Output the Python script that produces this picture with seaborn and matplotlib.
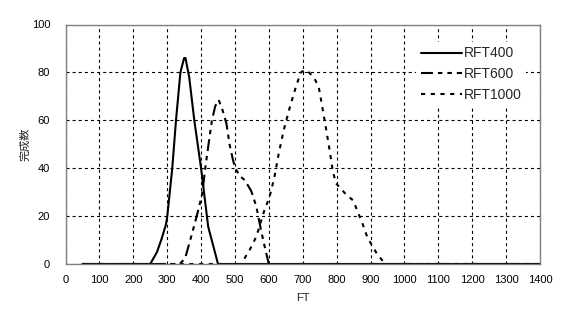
import matplotlib
matplotlib.use("Agg")
import matplotlib.pyplot as plt
import seaborn as sns
import pandas as pd

# ---- data ----
rft400_x = [50, 250, 270, 284, 296, 300, 315, 326, 339, 350, 354, 365, 380, 400, 421, 450, 1400]
rft400_y = [0, 0, 5, 10.7, 16.3, 19.5, 40, 60, 80, 86, 86, 78, 60, 40, 15.6, 0, 0]

rft600_x = [50, 337, 353, 372, 389, 403, 413, 423, 432, 442, 452, 464, 475, 484, 494,
            501, 514, 529, 548, 563, 577, 590, 600, 1400]
rft600_y = [0, 0, 2.4, 12, 21, 29, 40.7, 51, 60, 66, 68.5, 64, 58.5, 50, 43.5,
            40, 36.8, 35, 30.5, 24, 14, 5.8, 0, 0]

rft1000_x = [50, 520, 531, 543, 563, 575, 587, 602, 616, 629, 644, 661, 682, 695, 705,
             715, 734, 747, 754, 766, 778, 789, 798, 828, 849, 863, 877, 889, 901, 918, 943, 1400]
rft1000_y = [0, 0, 3, 5.8, 11.4, 17, 22.5, 28, 36, 46, 56, 65, 75, 80, 81,
             80.5, 77.6, 74, 68.5, 58.8, 48.6, 38.6, 33.7, 29, 26.5, 21.5, 16.6, 11.8, 8.6, 4.5, 0, 0]

series_names = ["RFT400", "RFT600", "RFT1000"]
x_ticks = list(range(0, 1401, 100))
y_ticks = list(range(0, 101, 20))
x_label = "FT"
y_label = "完成数"

df = pd.concat([
    pd.DataFrame({"FT": rft400_x, "val": rft400_y, "series": series_names[0]}),
    pd.DataFrame({"FT": rft600_x, "val": rft600_y, "series": series_names[1]}),
    pd.DataFrame({"FT": rft1000_x, "val": rft1000_y, "series": series_names[2]}),
], ignore_index=True)

sns.set_style("white")
plt.rcParams["font.family"] = ["Liberation Sans", "Noto Sans CJK JP", "DejaVu Sans"]
plt.rcParams["lines.scale_dashes"] = False

fig = plt.figure(figsize=(5.77, 3.25), dpi=100)
ax = fig.add_axes([65.5 / 577, 1 - 264 / 325, (540 - 65.5) / 577, (264 - 24.5) / 325])

dashes = {
    "RFT400": "",
    "RFT600": (8.6, 3.6, 3.2, 3.6, 3.2, 3.6),
    "RFT1000": (3.0, 4.0),
}
sns.lineplot(data=df, x="FT", y="val", hue="series", style="series",
             dashes=dashes, palette=["black"] * 3, linewidth=1.5,
             hue_order=series_names, style_order=series_names,
             ax=ax, legend=True, sort=False)

ax.set_xlim(0, 1400)
ax.set_ylim(0, 100)
ax.set_xticks(x_ticks)
ax.set_yticks(y_ticks)
ax.tick_params(axis="both", length=0, labelsize=8, colors="black")
ax.tick_params(axis="x", pad=8)
ax.tick_params(axis="y", pad=11)
ax.grid(True, color="black", linestyle=(0, (2.2, 2.2)), linewidth=0.8)
ax.set_axisbelow(True)
for s in ax.spines.values():
    s.set_color("#808080")
    s.set_linewidth(1.0)
ax.set_xlabel(x_label, fontsize=8, labelpad=6)
ax.set_ylabel(y_label, fontsize=8, labelpad=1, family=["Noto Sans CJK JP", "DejaVu Sans"])

leg = ax.legend(loc="upper left", bbox_to_anchor=(0.725, 0.955), frameon=True,
                fontsize=10, handlelength=3.0, handletextpad=0.15,
                labelspacing=0.5, borderpad=0.3, fancybox=False)
leg.get_frame().set_facecolor("white")
leg.get_frame().set_edgecolor("none")
leg.get_frame().set_alpha(1.0)

fig.savefig("out.png", dpi=100)
